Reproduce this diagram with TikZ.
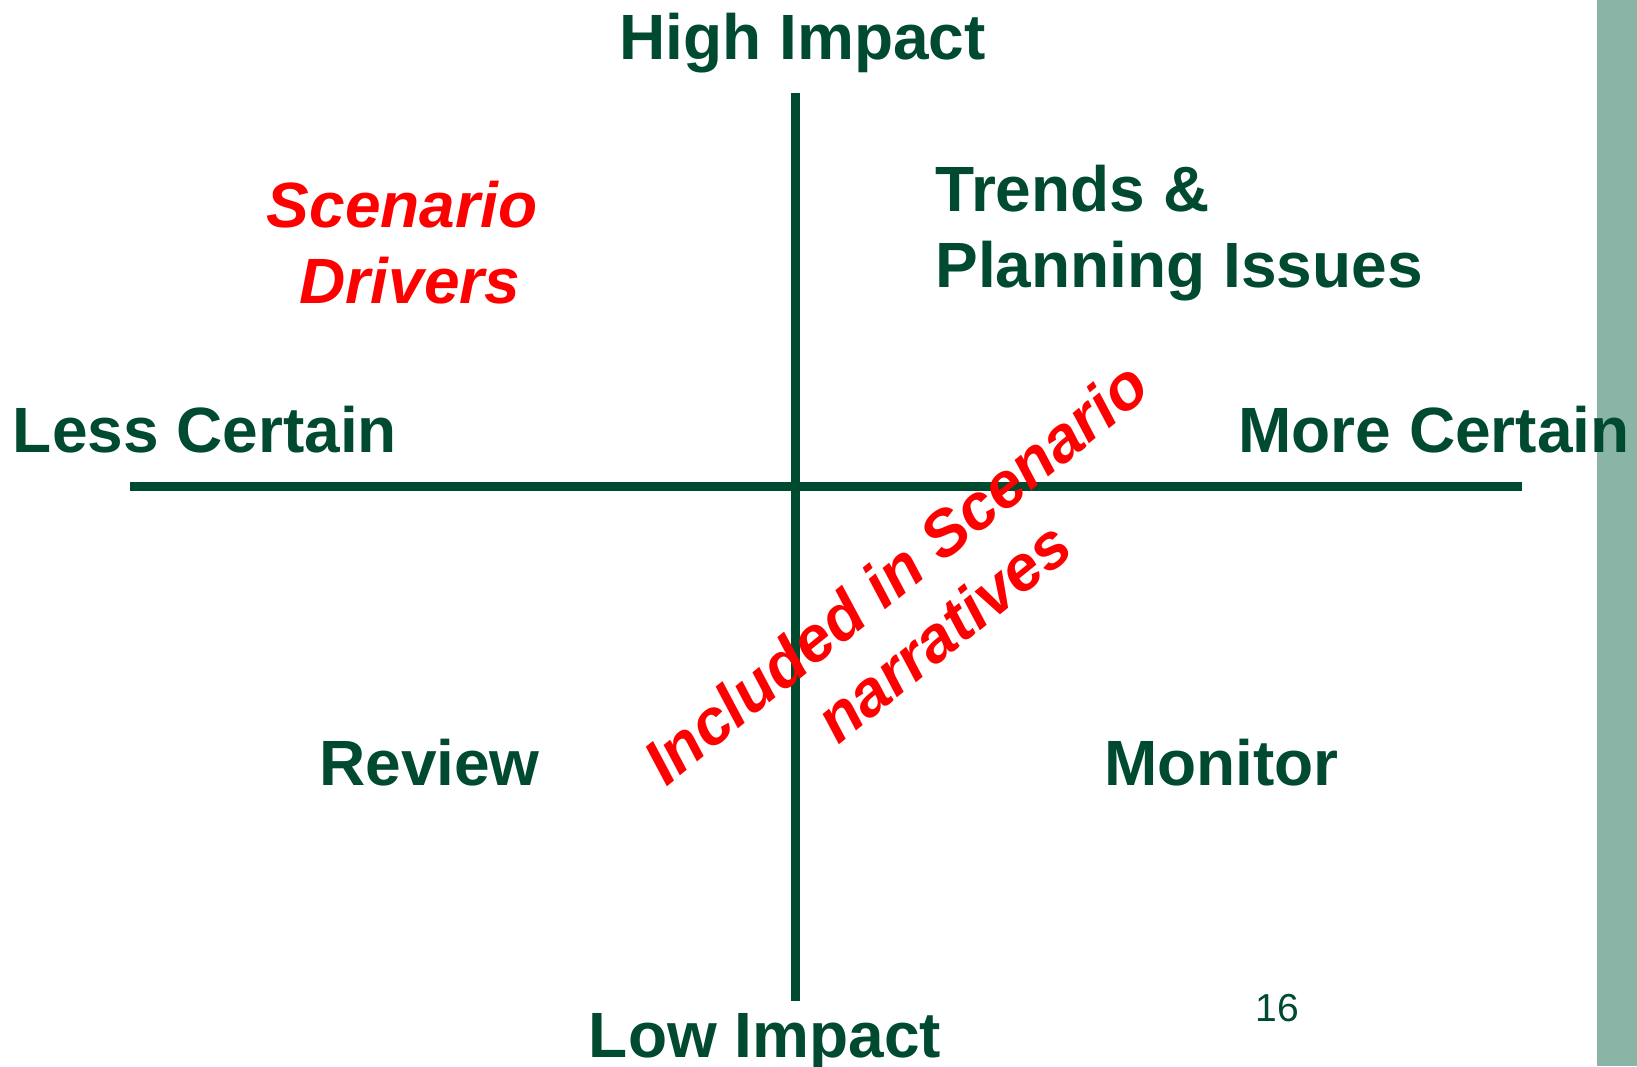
\documentclass[tikz,border=0pt]{standalone}
\usepackage{fontspec}
\setmainfont{Liberation Sans}
\definecolor{dkgreen}{RGB}{0,74,48}
\definecolor{barcol}{RGB}{138,180,166}
\definecolor{redtxt}{RGB}{255,0,0}
\begin{document}
\begin{tikzpicture}[x=1pt,y=-1pt,
  lbl/.style={inner sep=0pt, outer sep=0pt, text=dkgreen, font=\fontsize{64}{77}\selectfont\bfseries},
  redlbl/.style={inner sep=0pt, outer sep=0pt, text=redtxt, font=\fontsize{64}{77}\selectfont\bfseries\itshape},
  pagenum/.style={inner sep=0pt, outer sep=0pt, text=dkgreen, font=\fontsize{39}{47}\selectfont},
  axisline/.style={draw=dkgreen, line width=9pt, line cap=butt}]
\useasboundingbox (0,0) rectangle (1637,1066);
\fill[white] (0,0) rectangle (1637,1066);
% side bar
\fill[barcol] (1597,0) rectangle (1637,1066);
% axes
\coordinate (top) at (795.5,93);
\coordinate (bottom) at (795.5,1001);
\coordinate (left) at (130,486.5);
\coordinate (right) at (1522,486.5);
\draw[axisline] (top) -- (bottom);
\draw[axisline] (left) -- (right);
% axis labels
\node[lbl, anchor=base] (high) at (802.5,59) {High Impact};
\node[lbl, anchor=base] (low) at (765,1057) {Low Impact};
\node[lbl, anchor=base] (less) at (205,452) {Less Certain};
\node[lbl, anchor=base] (more) at (1434,452) {More Certain};
% quadrant labels
\node[redlbl, anchor=base] (scen) at (402,227) {Scenario};
\node[redlbl, anchor=base] (drv) at (410,303) {Drivers};
\node[lbl, anchor=base west] (trends) at (935.5,211) {Trends \&};
\node[lbl, anchor=base west] (plan) at (935.5,287) {Planning Issues};
\node[lbl, anchor=base] (review) at (429.5,785) {Review};
\node[lbl, anchor=base] (monitor) at (1221.5,785) {Monitor};
% diagonal text
\node[redlbl, anchor=base, rotate=39] (inc1) at (909.3,590.3) {Included in Scenario};
\node[redlbl, anchor=base, rotate=39] (inc2) at (957.1,649.4) {narratives};
% page number
\node[pagenum, anchor=base] (num) at (1277.5,1021) {16};
\end{tikzpicture}
\end{document}
